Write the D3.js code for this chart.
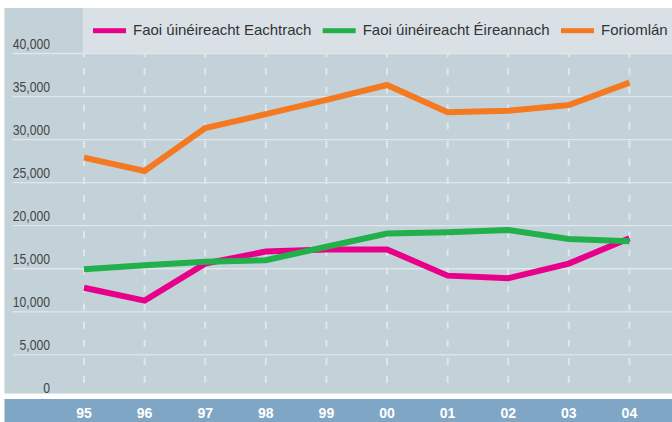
<html>
<style>
    body { margin: 0px; background: #fff; }
</style>
<body>
    <svg id='viz'></svg>
</body>
<script src='https://d3js.org/d3.v7.min.js'></script>
<script>
var width = 672;
var height = 422;

// data
var years = ["95", "96", "97", "98", "99", "00", "01", "02", "03", "04"];
var foreignOwned = [12800, 11300, 15600, 17000, 17250, 17250, 14200, 13900, 15600, 18550];
var irishOwned = [14950, 15400, 15800, 16000, 17550, 19100, 19250, 19500, 18450, 18200];
var total = [27900, 26350, 31330, 32950, 34620, 36340, 33170, 33360, 34020, 36610];
var yTicks = [0, 5000, 10000, 15000, 20000, 25000, 30000, 35000, 40000];
var seriesNames = ["Faoi úinéireacht Eachtrach", "Faoi úinéireacht Éireannach", "Foriomlán"];
var seriesColors = ["#e8008a", "#22b04b", "#f47920"];

var series = [foreignOwned, irishOwned, total];

var svg = d3.select("#viz").attr("width", width).attr("height", height);

var x = d3.scalePoint().domain(years).range([84, 629.4]);
var y = d3.scaleLinear().domain([0, 40000]).range([397.9, 53.5]);

// panel background
svg.append("rect")
    .attr("x", 4.5).attr("y", 8)
    .attr("width", width - 4.5).attr("height", 385.5)
    .attr("fill", "#c3d1d9");

// vertical dashed lines
svg.append("g").selectAll("line")
    .data(years)
    .enter()
    .append("line")
    .attr("x1", function(d) { return x(d); })
    .attr("x2", function(d) { return x(d); })
    .attr("y1", 50.2)
    .attr("y2", 393)
    .attr("stroke", "#dfe7ec")
    .attr("stroke-width", 2)
    .attr("stroke-dasharray", "7,11.1");

// legend box
svg.append("rect")
    .attr("x", 82.7).attr("y", 8)
    .attr("width", width - 82.7).attr("height", 45.3)
    .attr("fill", "#d9e1e7");

// horizontal grid lines
svg.append("g").selectAll("line")
    .data(yTicks.filter(function(d) { return d > 0; }))
    .enter()
    .append("line")
    .attr("x1", 12.7)
    .attr("x2", width)
    .attr("y1", function(d) { return y(d); })
    .attr("y2", function(d) { return y(d); })
    .attr("stroke", "#dfe7ec")
    .attr("stroke-width", 1.3);

// y labels (narrow face, squeezed a bit)
svg.append("g").selectAll("text")
    .data(yTicks)
    .enter()
    .append("text")
    .attr("transform", function(d) { return "translate(50," + (y(d) - 4.5) + ") scale(0.87,1)"; })
    .attr("text-anchor", "end")
    .style("font-family", "'Liberation Sans', Arial, sans-serif")
    .style("font-size", "14px")
    .style("fill", "#444")
    .text(function(d) { return d3.format(",")(d); });

// x axis band
svg.append("rect")
    .attr("x", 4.5).attr("y", 399)
    .attr("width", width - 4.5).attr("height", height - 399)
    .attr("fill", "#7fa6c4");

svg.append("g").selectAll("text")
    .data(years)
    .enter()
    .append("text")
    .attr("x", function(d) { return x(d); })
    .attr("y", 418.3)
    .attr("text-anchor", "middle")
    .style("font-family", "'Liberation Sans', Arial, sans-serif")
    .style("font-size", "14px")
    .style("font-weight", "bold")
    .style("fill", "#fff")
    .text(function(d) { return d; });

// lines
var line = d3.line()
    .x(function(d, i) { return x(years[i]); })
    .y(function(d) { return y(d); });

svg.append("g").selectAll("path")
    .data(series)
    .enter()
    .append("path")
    .attr("d", line)
    .attr("fill", "none")
    .attr("stroke", function(d, i) { return seriesColors[i]; })
    .attr("stroke-width", 6)
    .attr("stroke-linejoin", "miter");

// legend
var legendX = [93, 322.7, 561];
var legend = svg.append("g").selectAll("g")
    .data(seriesNames)
    .enter()
    .append("g")
    .attr("transform", function(d, i) { return "translate(" + legendX[i] + ",0)"; });

legend.append("rect")
    .attr("x", 0).attr("y", 28.2)
    .attr("width", 33).attr("height", 5)
    .attr("fill", function(d, i) { return seriesColors[i]; });

legend.append("text")
    .attr("x", 40)
    .attr("y", 35)
    .style("font-family", "'Liberation Sans', Arial, sans-serif")
    .style("font-size", "15px")
    .style("fill", "#333")
    .text(function(d) { return d; });
</script>
</html>
